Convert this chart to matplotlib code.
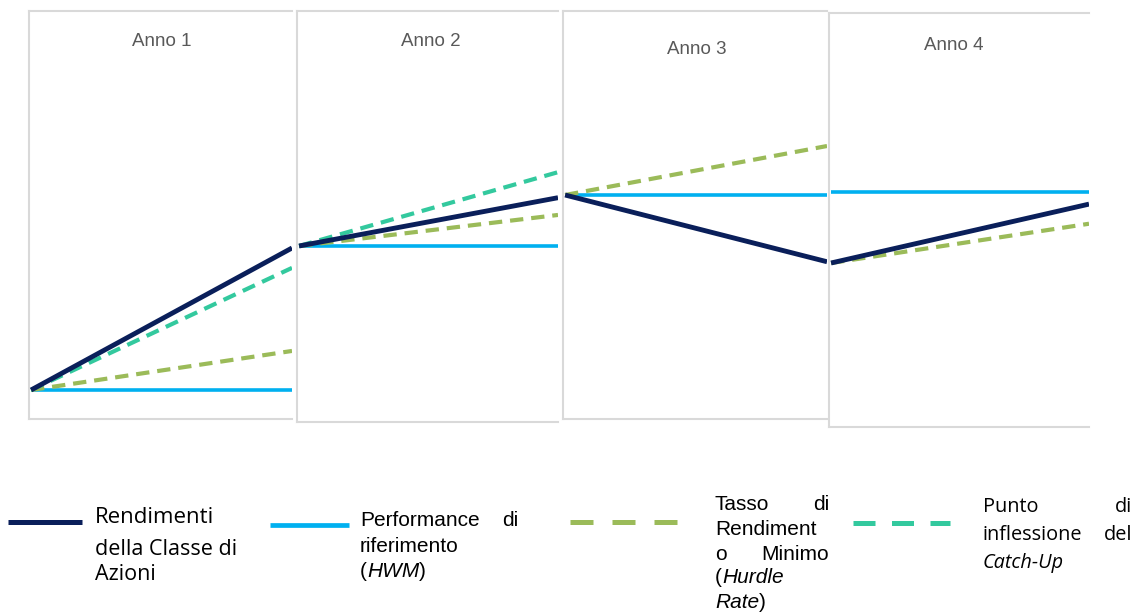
import matplotlib
matplotlib.use("Agg")
import matplotlib.pyplot as plt
from matplotlib.lines import Line2D

# ---- data -------------------------------------------------------------
anni = ["Anno 1", "Anno 2", "Anno 3", "Anno 4"]
# value of the share class at the start of each year plus the final value
classe_di_azioni = [100.0, 120.0, 127.0, 117.6, 125.4]
# high water mark held flat during each year
hwm = [100.0, 120.0, 127.0, 127.0]
# hurdle rate target at the end of each year (starts from the class value)
hurdle_fine = [105.5, 124.5, 133.9, 122.8]
# catch-up inflection point at the end of each year (only first two years)
catch_up_fine = [117.2, 130.7, None, None]

legend_labels = [
    "Rendimenti della Classe di Azioni",
    "Performance di riferimento (HWM)",
    "Tasso di Rendimento Minimo (Hurdle Rate)",
    "Punto di inflessione del Catch-Up",
]

# ---- style ------------------------------------------------------------
NAVY = "#0a1f5a"
BLUE = "#00b0f0"
GREEN = "#9bbb59"
TEAL = "#33c99e"
BORDER = "#d9d9d9"
TITLE_GREY = "#595959"
ARIAL = ["Liberation Sans", "DejaVu Sans"]
SEGOE = ["Open Sans", "DejaVu Sans"]

W, H = 1142, 612
fig = plt.figure(figsize=(W / 100, H / 100), dpi=100)
fig.patch.set_facecolor("white")


def fx(x):
    return x / W


def fy(y):
    return 1 - y / H


# panel boxes in pixels: left, top, right, bottom
boxes = [(29, 11, 292, 419), (297, 11, 558, 422),
         (563, 11, 827, 419), (829, 13, 1089, 427)]
# pixel row where each panel's starting value sits, and pixels per unit
anchor_px = [390, 246, 195, 263]
px_per_unit = [7.1, 6.9, 7.1, 7.55]
title_pos = [(162, 41), (431, 41), (697, 50), (954, 46)]

for i, (l, t, r, b) in enumerate(boxes):
    ax = fig.add_axes([fx(l), fy(b), (r - l) / W, (b - t) / H])
    v0 = classe_di_azioni[i]
    s = px_per_unit[i]
    ax.set_ylim(v0 - (b - anchor_px[i]) / s, v0 + (anchor_px[i] - t) / s)
    ax.set_xlim(-0.008, 1.0)
    x = [0, 1]

    ax.plot(x, [hwm[i], hwm[i]], color=BLUE, lw=2.6,
            solid_capstyle="butt", zorder=2)
    ax.plot(x, [classe_di_azioni[i], hurdle_fine[i]], color=GREEN, lw=3.0,
            dashes=(3.2, 1.9), dash_capstyle="butt", zorder=3)
    if catch_up_fine[i] is not None:
        ax.plot(x, [classe_di_azioni[i], catch_up_fine[i]], color=TEAL,
                lw=3.0, dashes=(3.2, 1.9), dash_capstyle="butt", zorder=4)
    ax.plot(x, [classe_di_azioni[i], classe_di_azioni[i + 1]], color=NAVY,
            lw=3.5, solid_capstyle="butt", zorder=5)

    ax.set_xticks([])
    ax.set_yticks([])
    for side in ("left", "top", "bottom"):
        ax.spines[side].set_color(BORDER)
        ax.spines[side].set_linewidth(1.5)
    ax.spines["right"].set_visible(False)

    tx, ty = title_pos[i]
    fig.text(fx(tx), fy(ty), anni[i], ha="center", va="center",
             family=ARIAL, fontsize=13.5, color=TITLE_GREY)

# ---- legend -----------------------------------------------------------
fig.add_artist(Line2D([fx(8), fx(82)], [fy(522)] * 2, color=NAVY, lw=3.6,
                      solid_capstyle="butt"))
fig.add_artist(Line2D([fx(270), fx(349)], [fy(525)] * 2, color=BLUE, lw=3.4,
                      solid_capstyle="butt"))
fig.add_artist(Line2D([fx(570), fx(677)], [fy(522)] * 2, color=GREEN, lw=3.6,
                      dashes=(4.6, 3.8), dash_capstyle="butt"))
fig.add_artist(Line2D([fx(853), fx(950)], [fy(523)] * 2, color=TEAL, lw=3.6,
                      dashes=(4.4, 3.3), dash_capstyle="butt"))

renderer = fig.canvas.get_renderer()


def run(x, y, parts, family, size, color="black"):
    """Draw a line of text made of (string, style) pieces, left to right."""
    for txt, style in parts:
        t = fig.text(fx(x), fy(y), txt, ha="left", va="baseline",
                     family=family, fontsize=size, style=style, color=color)
        bb = t.get_window_extent(renderer=renderer)
        x += bb.width


def word(x, y, txt, family, size, ha="left", style="normal"):
    fig.text(fx(x), fy(y), txt, ha=ha, va="baseline", family=family,
             fontsize=size, style=style, color="black")


# Rendimenti della Classe di Azioni
word(95, 523, "Rendimenti", SEGOE, 16)
word(95, 555, "della Classe di", SEGOE, 15.5)
word(95, 580, "Azioni", SEGOE, 15.5)

# Performance di riferimento (HWM)
AS = 15
word(360, 526, "Performance", ARIAL, AS)
word(518, 526, "di", ARIAL, AS, ha="right")
word(360, 552, "riferimento", ARIAL, AS)
run(360, 577, [("(", "normal"), ("HWM", "italic"), (")", "normal")], ARIAL, AS)

# Tasso di Rendimento Minimo (Hurdle Rate)
word(715, 510, "Tasso", ARIAL, AS)
word(829, 510, "di", ARIAL, AS, ha="right")
word(715, 535, "Rendiment", ARIAL, AS)
word(715, 560, "o", ARIAL, AS)
word(829, 560, "Minimo", ARIAL, AS, ha="right")
run(715, 583, [("(", "normal"), ("Hurdle", "italic")], ARIAL, AS)
run(715, 608, [("Rate", "italic"), (")", "normal")], ARIAL, AS)

# Punto di inflessione del Catch-Up
PS = 14.3
word(983, 512, "Punto", SEGOE, PS)
word(1132, 512, "di", SEGOE, PS, ha="right")
word(983, 540, "inflessione", SEGOE, PS)
word(1132, 540, "del", SEGOE, PS, ha="right")
word(983, 568, "Catch-Up", SEGOE, PS, style="italic")

fig.savefig("out.png", dpi=100, facecolor="white")
